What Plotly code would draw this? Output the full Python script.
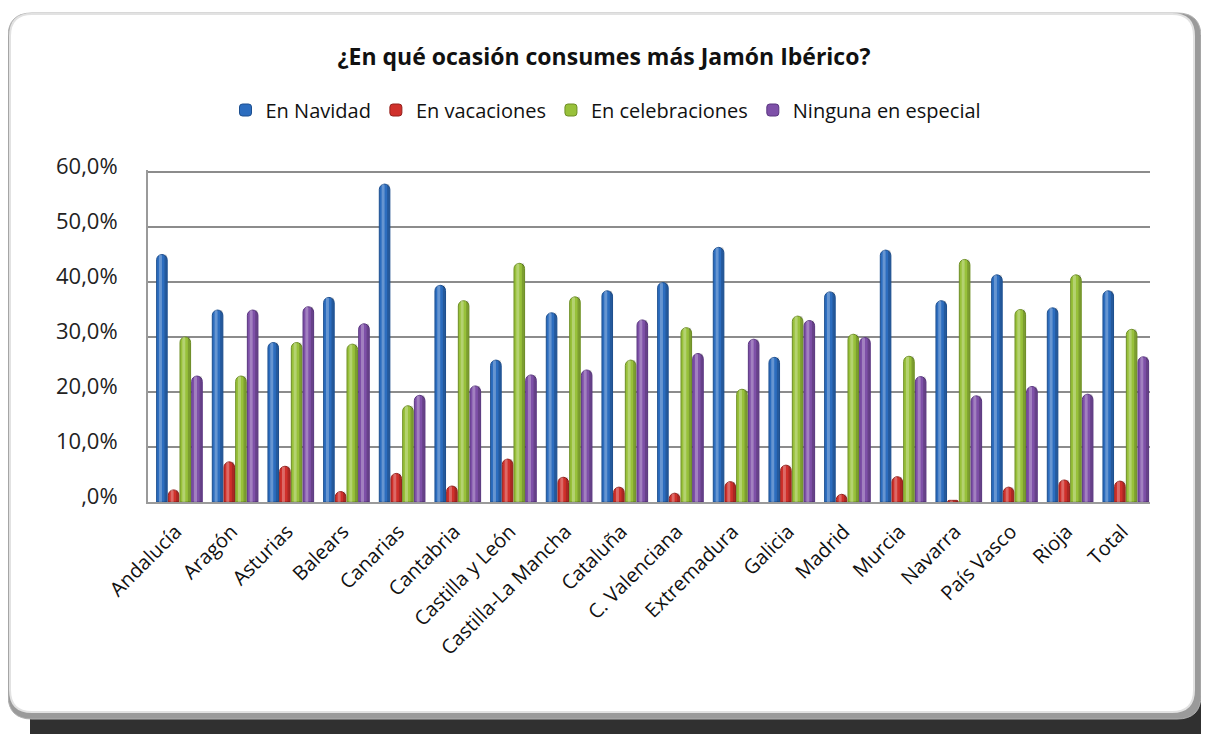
import plotly.graph_objects as go

# ---------------- data ----------------
regiones = ["Andalucía", "Aragón", "Asturias", "Balears", "Canarias", "Cantabria",
            "Castilla y León", "Castilla-La Mancha", "Cataluña", "C. Valenciana",
            "Extremadura", "Galicia", "Madrid", "Murcia", "Navarra", "País Vasco",
            "Rioja", "Total"]

en_navidad = [45.0, 34.9, 29.0, 37.2, 57.8, 39.4, 25.8, 34.4, 38.4, 39.9,
              46.3, 26.3, 38.2, 45.8, 36.6, 41.3, 35.3, 38.4]
en_vacaciones = [2.2, 7.3, 6.5, 1.9, 5.2, 2.9, 7.8, 4.5, 2.7, 1.6,
                 3.7, 6.7, 1.4, 4.6, 0.3, 2.7, 4.0, 3.8]
en_celebraciones = [30.0, 22.9, 29.0, 28.7, 17.5, 36.6, 43.4, 37.3, 25.8, 31.7,
                    20.5, 33.8, 30.5, 26.5, 44.1, 35.0, 41.3, 31.4]
ninguna = [22.9, 34.9, 35.5, 32.4, 19.4, 21.1, 23.1, 24.0, 33.1, 27.0,
           29.6, 33.0, 29.9, 22.8, 19.3, 21.0, 19.6, 26.4]

series_names = ["En Navidad", "En vacaciones", "En celebraciones", "Ninguna en especial"]
y_tickvals = [0, 0.1, 0.2, 0.3, 0.4, 0.5, 0.6]
y_ticktext = [",0%", "10,0%", "20,0%", "30,0%", "40,0%", "50,0%", "60,0%"]
title_text = "¿En qué ocasión consumes más Jamón Ibérico?"

# ---------------- styling ----------------
OFF = 8                      # page body margin
W, H = 1209 - OFF, 734 - OFF
PL, PR, PT, PB = 148 - OFF, 1150 - OFF, 170 - OFF, 502 - OFF
colors = ["#2C6DBF", "#D0302B", "#98C13A", "#7E50A8"]
dark = ["#1D4F8F", "#94201C", "#6E8F25", "#5A3680"]
offsets = [-0.345, -0.135, 0.075, 0.285]
bw = 0.19
FONT = "Open Sans"
Y_TOP = 0.6 * (PB - PT) / (PB - PT - 2)   # leaves room so the 60% gridline shows


def px(x):
    return (x - OFF - PL) / (PR - PL)


def py(y):
    return (PB - (y - OFF)) / (PB - PT)


def rrect(x0, y0, x1, y1, r):
    rx = r / (PR - PL)
    ry = r / (PB - PT)
    X0, X1 = px(x0), px(x1)
    Y0, Y1 = py(y0), py(y1)
    return (f"M {X0+rx},{Y0} L {X1-rx},{Y0} Q {X1},{Y0} {X1},{Y0-ry} "
            f"L {X1},{Y1+ry} Q {X1},{Y1} {X1-rx},{Y1} L {X0+rx},{Y1} "
            f"Q {X0},{Y1} {X0},{Y1+ry} L {X0},{Y0-ry} Q {X0},{Y0} {X0+rx},{Y0} Z")


fig = go.Figure()
all_series = [en_navidad, en_vacaciones, en_celebraciones, ninguna]
for i, vals in enumerate(all_series):
    v = [a / 100 for a in vals]
    fig.add_trace(go.Bar(
        x=regiones, y=v, name=series_names[i],
        width=bw, offset=offsets[i],
        marker=dict(color=colors[i], line=dict(color=dark[i], width=1), cornerradius=6),
        hovertemplate="%{x}: %{y:.1%}<extra>" + series_names[i] + "</extra>",
    ))
    fig.add_trace(go.Bar(
        x=regiones, y=v, showlegend=False, hoverinfo="skip",
        width=bw * 0.28, offset=offsets[i] + bw * 0.22,
        marker=dict(color="rgba(255,255,255,0.28)", line=dict(width=0), cornerradius=3),
    ))
    fig.add_trace(go.Bar(
        x=regiones, y=v, showlegend=False, hoverinfo="skip",
        width=bw * 0.22, offset=offsets[i] + bw * 0.74,
        marker=dict(color="rgba(0,0,0,0.18)", line=dict(width=0), cornerradius=3),
    ))

shapes = [
    dict(type="path", xref="paper", yref="paper", layer="below",
         path=rrect(30, 35, 1240, 770, 24),
         fillcolor="#303030", line=dict(width=0)),
    dict(type="path", xref="paper", yref="paper", layer="below",
         path=rrect(8, 13, 1201, 719, 24),
         fillcolor="#9a9a9a", line=dict(color="#b0b0b0", width=1)),
    dict(type="path", xref="paper", yref="paper", layer="below",
         path=rrect(10, 14, 1194, 712, 22),
         fillcolor="white", line=dict(color="#e2e2e2", width=2)),
]

fig.update_layout(
    width=W, height=H, autosize=False,
    margin=dict(l=PL, r=W - PR, t=PT, b=H - PB, pad=0),
    paper_bgcolor="white", plot_bgcolor="white",
    barmode="overlay",
    font=dict(family=FONT, color="#1a1a1a"),
    title=dict(text="<b>" + title_text + "</b>", x=(604 - OFF) / W, xanchor="center",
               xref="container", yref="container", y=1 - (57 - OFF) / H, yanchor="middle",
               font=dict(family=FONT, size=23, color="#111")),
    legend=dict(orientation="h", x=px(606), xanchor="center", y=py(110), yanchor="middle",
                font=dict(family=FONT, size=20, color="#111"),
                itemwidth=30, traceorder="normal", bgcolor="rgba(0,0,0,0)"),
    xaxis=dict(type="category", showgrid=False, showline=True, linecolor="#9a9a9a",
               linewidth=2, ticks="", tickangle=-45, ticklabelstandoff=8,
               tickfont=dict(family=FONT, size=20, color="#111"), fixedrange=True),
    yaxis=dict(range=[0, Y_TOP], tickvals=y_tickvals, ticktext=y_ticktext,
               showgrid=True, gridcolor="#8c8c8c", gridwidth=2,
               zeroline=False, showline=True, linecolor="#9a9a9a", linewidth=2,
               ticks="", ticklabelstandoff=24, ticklabelshift=-6,
               tickfont=dict(family=FONT, size=22, color="#222"), fixedrange=True),
    shapes=shapes,
)

fig.write_html("out.html")
